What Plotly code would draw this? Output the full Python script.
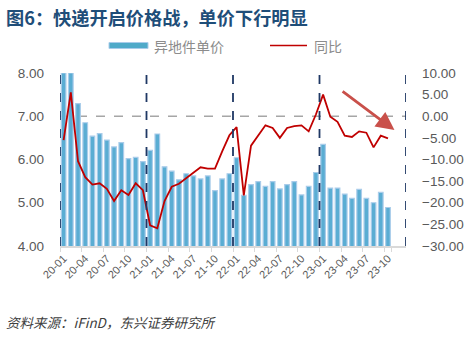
import plotly.graph_objects as go

# Monthly categories 2020-01 .. 2023-12
months = [f"{yy}-{mm:02d}" for yy in range(20, 24) for mm in range(1, 13)]

# Cross-region parcel unit price (yuan/item), 2020-01 .. 2023-10
price = [8.00, 8.00, 7.29, 6.85, 6.54, 6.60, 6.45, 6.29, 6.39, 6.02, 6.05, 5.95,
         6.21, 6.59, 5.83, 5.73, 5.53, 5.67, 5.62, 5.55, 5.62, 5.28, 5.55, 5.67,
         6.04, 5.17, 5.42, 5.49, 5.38, 5.49, 5.32, 5.42, 5.49, 5.18, 5.38, 5.70,
         6.35, 5.34, 5.34, 5.20, 5.10, 5.31, 5.10, 5.00, 5.24, 4.89]

# Year-on-year change (%)
yoy = [-5.5, 5.5, -10.4, -14.1, -15.8, -15.5, -16.8, -19.6, -17.1, -18.2, -15.5, -17.1,
       -25.2, -25.9, -19.6, -16.3, -15.6, -14.4, -13.1, -11.8, -12.1, -12.1, -8.1, -4.4,
       -2.5, -18.3, -6.8, -4.4, -2.1, -2.7, -5.0, -2.7, -2.3, -2.1, -3.5, 0.4,
       5.0, -0.1, -1.3, -4.5, -4.8, -3.5, -3.8, -7.2, -4.5, -5.1]

tick_labels = months[::3]
left_ticks = [4, 5, 6, 7, 8]
right_ticks = [-30, -25, -20, -15, -10, -5, 0, 5, 10]

W, H = 476, 338
ML, MR, MT, MB = 60, 70, 73, 92
PW, PH = W - ML - MR, H - MT - MB

def px_x(p):
    return (p - ML) / PW

def px_y(p):
    return (H - MB - p) / PH

FONT = "Liberation Sans, Arial, Noto Sans CJK SC, sans-serif"
CJK = "Noto Sans CJK SC, sans-serif"
BAR_COLOR = "#5AADD3"
BAR_EDGE = "#A9CCEA"
LINE_COLOR = "#C00000"

fig = go.Figure()
fig.add_trace(go.Bar(
    x=months[:len(price)], y=price, name="异地件单价",
    marker=dict(color=BAR_COLOR, line=dict(color=BAR_EDGE, width=1.2)),
    showlegend=False, yaxis="y",
))
fig.add_trace(go.Scatter(
    x=months[:len(yoy)], y=yoy, name="同比", mode="lines",
    line=dict(color=LINE_COLOR, width=1.8),
    showlegend=False, yaxis="y2",
))

shapes = []
# Year separators
for i in range(0, len(months) + 1, 12):
    shapes.append(dict(type="line", xref="x", yref="paper", x0=i - 0.5, x1=i - 0.5,
                       y0=0, y1=1, line=dict(color="#1F3864", width=1.8, dash="dash"),
                       layer="above"))
# Zero line of the YoY axis
shapes.append(dict(type="line", xref="paper", yref="y2", x0=0, x1=1, y0=0, y1=0,
                   line=dict(color="#A6A6A6", width=1.5, dash="dash"), layer="below"))
# Legend swatches
shapes.append(dict(type="rect", xref="paper", yref="paper",
                   x0=px_x(109), x1=px_x(148), y0=px_y(48.5), y1=px_y(42.5),
                   fillcolor="#4FAAC9", line=dict(color="#A9CCEA", width=1)))
shapes.append(dict(type="line", xref="paper", yref="paper",
                   x0=px_x(270), x1=px_x(307), y0=px_y(45.5), y1=px_y(45.5),
                   line=dict(color=LINE_COLOR, width=1.5)))

annotations = [
    dict(text="图6：快递开启价格战，单价下行明显", xref="paper", yref="paper",
         x=px_x(4), y=px_y(17), xanchor="left", yanchor="middle", showarrow=False,
         font=dict(family=CJK, size=18.2, color="#1F4E79", weight="bold")),
    dict(text="异地件单价", xref="paper", yref="paper", x=px_x(152), y=px_y(45.5),
         xanchor="left", yanchor="middle", showarrow=False,
         font=dict(family=CJK, size=14, color="#8C8C8C")),
    dict(text="同比", xref="paper", yref="paper", x=px_x(312), y=px_y(45.5),
         xanchor="left", yanchor="middle", showarrow=False,
         font=dict(family=CJK, size=14, color="#8C8C8C")),
    dict(text="<i>资料来源：iFinD，东兴证券研究所</i>", xref="paper", yref="paper",
         x=px_x(4), y=px_y(322), xanchor="left", yanchor="middle", showarrow=False,
         font=dict(family=CJK, size=13.5, color="#404040")),
    # Downward trend arrow
    dict(x=45.9, y=-3.2, xref="x", yref="y2", ax=38.5, ay=6.0, axref="x", ayref="y2",
         text="", showarrow=True, arrowhead=2, arrowsize=1.3, arrowwidth=2.8,
         arrowcolor="#C9504A"),
]

fig.update_layout(
    width=W, height=H,
    margin=dict(l=ML, r=MR, t=MT, b=MB),
    paper_bgcolor="white", plot_bgcolor="white",
    bargap=0.36,
    font=dict(family=FONT, color="#595959"),
    shapes=shapes, annotations=annotations,
    xaxis=dict(
        type="category", categoryorder="array", categoryarray=months,
        range=[-0.5, len(months) - 0.5],
        tickmode="array", tickvals=tick_labels, ticktext=tick_labels,
        tickangle=-45, tickson="boundaries", ticks="outside", ticklen=4,
        tickcolor="#D9D9D9", showline=True, linecolor="#D9D9D9", linewidth=1.5,
        showgrid=False, tickfont=dict(size=11, color="#595959"),
    ),
    yaxis=dict(
        range=[4, 8], tickvals=left_ticks, tickformat=".2f", showgrid=False,
        zeroline=False, ticks="", ticklabelstandoff=15,
        tickfont=dict(size=13.5, color="#595959"),
    ),
    yaxis2=dict(
        range=[-30, 10], tickvals=right_ticks, tickformat=".2f", ticksuffix="%",
        overlaying="y", side="right", showgrid=False, zeroline=False, ticks="",
        ticklabelstandoff=15, tickfont=dict(size=13.5, color="#595959"),
    ),
)

fig.write_html("out.html")
